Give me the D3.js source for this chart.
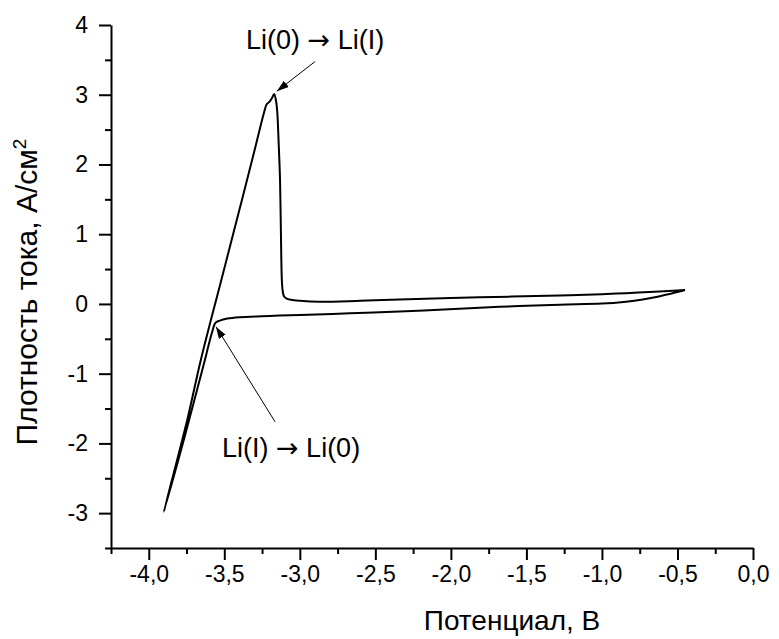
<!DOCTYPE html>
<html>
<head>
<meta charset="utf-8">
<script src="https://cdn.jsdelivr.net/npm/d3@7"></script>
<style>
  body { margin: 0; background: #fff; }
  text { font-family: "Liberation Sans", Arial, sans-serif; fill: #000; }
</style>
</head>
<body>
<div id="chart"></div>
<script>
// chart values
// scan order: from the right tip along the cathodic branch, down to -3.9 V, back up through the peak
const potential = [
    -0.45, -0.50, -0.56, -0.64, -0.74, -0.84, -1.00, -1.28, -1.55, -1.81, -2.08, -2.34, -2.67, -3.00,
    -3.20, -3.40, -3.48, -3.53, -3.56, -3.58, -3.605, -3.628, -3.762, -3.90,
    -3.745, -3.655, -3.52, -3.40, -3.30, -3.24, -3.22, -3.20, -3.185, -3.17, -3.158, -3.149, -3.14,
    -3.131, -3.125, -3.119, -3.113, -3.105, -3.09, -3.06, -3.00, -2.87, -2.60, -2.34, -2.00, -1.60,
    -1.28, -1.00, -0.84, -0.65, -0.53, -0.45
];
const current = [
    0.20, 0.17, 0.14, 0.10, 0.06, 0.033, 0.005, -0.01, -0.03, -0.055, -0.085, -0.11, -0.135, -0.158,
    -0.172, -0.19, -0.21, -0.24, -0.275, -0.40, -0.60, -0.80, -1.90, -2.98,
    -1.66, -0.80, 0.34, 1.35, 2.20, 2.72, 2.86, 2.90, 2.95, 3.01, 2.92, 2.74, 2.30,
    1.78, 1.00, 0.34, 0.18, 0.11, 0.08, 0.06, 0.045, 0.03, 0.045, 0.065, 0.085, 0.105,
    0.122, 0.14, 0.154, 0.175, 0.19, 0.20
];

const xTicks = [-4.0, -3.5, -3.0, -2.5, -2.0, -1.5, -1.0, -0.5, 0.0];
const xMinorTicks = [-4.25, -3.75, -3.25, -2.75, -2.25, -1.75, -1.25, -0.75, -0.25];
const yTicks = [-3, -2, -1, 0, 1, 2, 3, 4];
const yMinorTicks = [-3.5, -2.5, -1.5, -0.5, 0.5, 1.5, 2.5, 3.5];

// annotations: label parts, label position (in data units), arrow start and end
const noteLabels = [["Li(0) ", "\u2192", " Li(I)"], ["Li(I) ", "\u2192", " Li(0)"]];
const notePos = [[-2.899, 3.66], [-3.058, -2.19]];
const noteFrom = [[-2.899, 3.476], [-3.164, -1.69]];
const noteTo = [[-3.152, 3.05], [-3.555, -0.326]];

// settings for the chart
const width = 779, height = 639;
const plot = { left: 111, right: 753, top: 25, bottom: 548 };

const svg = d3.select("#chart").append("svg")
    .attr("width", width)
    .attr("height", height);

const x = d3.scaleLinear().domain([-4.25, 0]).range([plot.left, plot.right]);
const y = d3.scaleLinear().domain([-3.5, 4]).range([plot.bottom, plot.top]);

const fmt = d => d3.format(".1f")(d).replace(".", ",").replace("\u2212", "-");

// x axis
svg.append("g")
    .attr("transform", `translate(0, ${plot.bottom})`)
    .call(d3.axisBottom(x).tickValues(xTicks).tickFormat(fmt).tickSize(12).tickPadding(6).tickSizeOuter(0));
svg.append("g")
    .attr("transform", `translate(0, ${plot.bottom})`)
    .call(d3.axisBottom(x).tickValues(xMinorTicks).tickFormat("").tickSize(6).tickSizeOuter(0))
    .select(".domain").remove();

// y axis
svg.append("g")
    .attr("transform", `translate(${plot.left}, 0)`)
    .call(d3.axisLeft(y).tickValues(yTicks).tickFormat(d => String(d).replace("\u2212", "-")).tickSize(12).tickPadding(11).tickSizeOuter(0));
svg.append("g")
    .attr("transform", `translate(${plot.left}, 0)`)
    .call(d3.axisLeft(y).tickValues(yMinorTicks).tickFormat("").tickSize(6).tickSizeOuter(0))
    .select(".domain").remove();

svg.selectAll(".domain, .tick line")
    .attr("stroke", "#000")
    .attr("stroke-width", 2);
svg.selectAll(".tick text")
    .attr("font-size", 23)
    .attr("font-family", "'Liberation Sans', Arial, sans-serif")
    .attr("fill", "#000");

// axis titles
svg.append("text")
    .attr("x", 512)
    .attr("y", 630)
    .attr("text-anchor", "middle")
    .attr("font-size", 28)
    .text("Потенциал, В");

const yTitle = svg.append("text")
    .attr("transform", "translate(37, 292) rotate(-90)")
    .attr("text-anchor", "middle")
    .attr("font-size", 30);
yTitle.append("tspan").text("Плотность тока, А/см");
yTitle.append("tspan").attr("dy", -11).attr("font-size", 19).text("2");

// the voltammogram
const points = potential.map((v, i) => [v, current[i]]);
svg.append("path")
    .datum(points)
    .attr("fill", "none")
    .attr("stroke", "#000")
    .attr("stroke-width", 2)
    .attr("stroke-linejoin", "round")
    .attr("d", d3.line()
        .x(d => x(d[0]))
        .y(d => y(d[1]))
        .curve(d3.curveCatmullRom.alpha(0.5)));

// arrow marker
svg.append("defs").append("marker")
    .attr("id", "arrow")
    .attr("viewBox", "0 0 12 8")
    .attr("refX", 12)
    .attr("refY", 4)
    .attr("markerWidth", 12)
    .attr("markerHeight", 8)
    .attr("markerUnits", "userSpaceOnUse")
    .attr("orient", "auto")
    .append("path")
    .attr("d", "M0,0 L12,4 L0,8 Z")
    .attr("fill", "#000");

noteLabels.forEach((parts, i) => {
    svg.append("line")
        .attr("x1", x(noteFrom[i][0]))
        .attr("y1", y(noteFrom[i][1]))
        .attr("x2", x(noteTo[i][0]))
        .attr("y2", y(noteTo[i][1]))
        .attr("stroke", "#000")
        .attr("stroke-width", 1)
        .attr("marker-end", "url(#arrow)");
    const t = svg.append("text")
        .attr("x", x(notePos[i][0]))
        .attr("y", y(notePos[i][1]))
        .attr("text-anchor", "middle")
        .attr("font-size", 27);
    t.append("tspan").text(parts[0]);
    t.append("tspan").attr("font-family", "'DejaVu Sans', sans-serif").attr("font-size", 27).text(parts[1]);
    t.append("tspan").text(parts[2]);
});
</script>
</body>
</html>
